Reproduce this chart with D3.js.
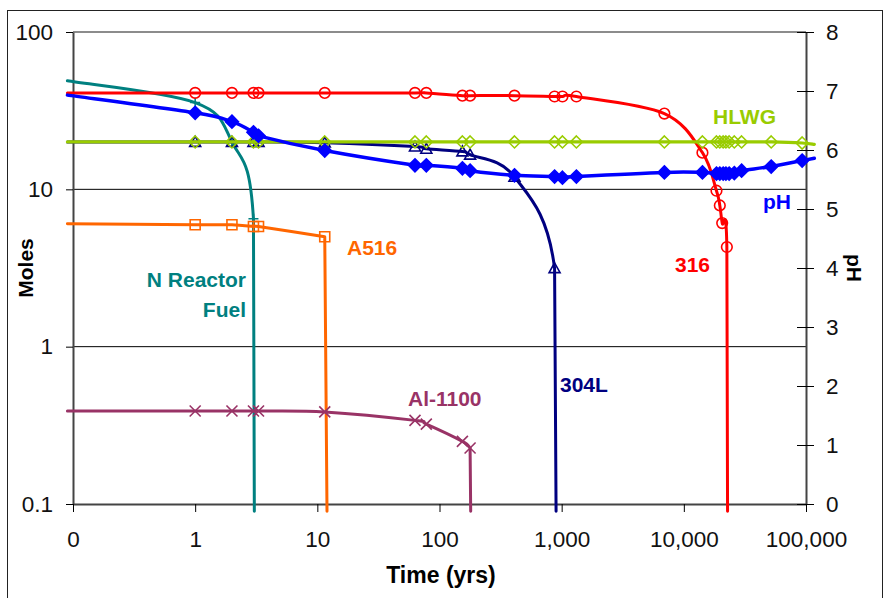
<!DOCTYPE html>
<html>
<head>
<meta charset="utf-8">
<script src="https://cdn.jsdelivr.net/npm/d3@7"></script>
<style>
  html, body { margin: 0; padding: 0; background: #fff; }
  svg { display: block; font-family: "Liberation Sans", Arial, sans-serif; }
</style>
</head>
<body>
<svg id="chart" width="884" height="598"></svg>
<script>
// ---------------- data ----------------
// "0" on the time axis sits one decade below 1; the curves start at ~0.09 yr there.
const timeTicks = [0.1, 1, 10, 100, 1000, 10000, 100000];
const timeTickLabels = ["0", "1", "10", "100", "1,000", "10,000", "100,000"];
const molesTicks = [0.1, 1, 10, 100];
const molesTickLabels = ["0.1", "1", "10", "100"];
const phTicks = [0, 1, 2, 3, 4, 5, 6, 7, 8];

// N Reactor Fuel (moles)
const tNReactor = [0.09, 1, 2, 3];
const vNReactor = [49, 35.6, 20, 6.5];
const dropNReactor = 3.05;

// A516 (moles)
const tA516 = [0.09, 1, 2, 3, 3.3, 11.5];
const vA516 = [6.05, 5.95, 5.95, 5.8, 5.8, 5.0];
const dropA516 = 12;

// Al-1100 (moles)
const tAl1100 = [0.09, 1, 2, 3, 3.3, 11.5, 63, 78, 154, 178];
const vAl1100 = [0.39, 0.39, 0.39, 0.39, 0.39, 0.385, 0.34, 0.322, 0.25, 0.227];
const dropAl1100 = 180;

// 304L (moles)
const t304L = [0.09, 1, 2, 3, 3.3, 11.5, 63, 78, 154, 178, 411, 875];
const v304L = [20, 20, 20, 20, 20, 19.8, 18.7, 18.1, 17.4, 16.6, 12.0, 3.15];
const drop304L = 900;

// 316 (moles)
const t316 = [0.09, 1, 2, 3, 3.3, 11.5, 63, 78, 154, 178, 411, 875, 1015, 1320, 6930, 14200, 18500, 19700, 20600, 22500];
const v316 = [41, 41, 41, 41, 41, 41, 41, 41, 39.4, 39.4, 39.4, 38.9, 38.9, 38.9, 30.3, 17.1, 9.8, 7.9, 6.1, 4.3];
const drop316 = 22800;

// HLWG (moles)
const tHLWG = [0.09, 1, 2, 3, 3.3, 11.5, 63, 78, 154, 178, 411, 875, 1015, 1320, 6930, 14200, 18500, 19700, 21000, 22100, 23500, 25900, 29700, 51900, 93000, 117000];
const vHLWG = [20, 20, 20, 20, 20, 20, 20, 20, 20, 20, 20, 20, 20, 20, 20, 20, 20, 20, 20, 20, 20, 20, 20, 20, 19.7, 19.3];

// pH (right axis)
const tPH = [0.09, 1, 2, 3, 3.3, 11.5, 63, 78, 154, 178, 411, 875, 1015, 1320, 6930, 14200, 18500, 19700, 21000, 22100, 23500, 25900, 29700, 51900, 93000, 117000];
const vPH = [6.93, 6.63, 6.48, 6.30, 6.24, 5.99, 5.74, 5.74, 5.69, 5.65, 5.57, 5.55, 5.53, 5.55, 5.62, 5.62, 5.60, 5.60, 5.60, 5.60, 5.60, 5.61, 5.65, 5.72, 5.82, 5.86];

const dropFloor = 0.09; // curves fall just below the 0.1 gridline

// ---------------- scales ----------------
const svg = d3.select("#chart");
const x = d3.scaleLog().domain([0.1, 100000]).range([73, 806]);
const yL = d3.scaleLog().domain([0.1, 100]).range([504, 32]);
const yR = d3.scaleLinear().domain([0, 8]).range([504, 32]);

// outer frame
svg.append("rect").attr("x", 7.5).attr("y", 10.5).attr("width", 875).attr("height", 600)
  .attr("fill", "none").attr("stroke", "#222").attr("stroke-width", 1);

// gridlines
svg.append("g").selectAll("line").data(molesTicks.filter(d => d > 0.1)).join("line")
  .attr("x1", x(0.1)).attr("x2", x(100000))
  .attr("y1", d => yL(d)).attr("y2", d => yL(d))
  .attr("stroke", d => d === 100 ? "#8c8c8c" : "#000")
  .attr("stroke-width", d => d === 100 ? 2 : 1);

const tickFont = 22.5;
// left axis
const gL = svg.append("g").attr("transform", `translate(${x(0.1)},0)`)
  .call(d3.axisLeft(yL).tickValues(molesTicks).tickFormat((d, i) => molesTickLabels[i])
    .tickSizeInner(7).tickSizeOuter(0).tickPadding(13));
// bottom axis
const gB = svg.append("g").attr("transform", `translate(0,${yL(0.1)})`)
  .call(d3.axisBottom(x).tickValues(timeTicks).tickFormat((d, i) => timeTickLabels[i])
    .tickSizeInner(8).tickSizeOuter(0).tickPadding(19));
// right axis
const gR = svg.append("g").attr("transform", `translate(${x(100000)},0)`)
  .call(d3.axisRight(yR).tickValues(phTicks).tickFormat(d3.format("d"))
    .tickSizeInner(8).tickSizeOuter(0).tickPadding(12));
gR.selectAll(".tick").append("line").attr("x1", -9).attr("x2", 0).attr("stroke", "#000");

[gL, gB, gR].forEach(g => {
  g.selectAll("text").attr("font-size", tickFont).attr("font-family", "Liberation Sans, Arial, sans-serif").attr("fill", "#111");
  g.selectAll("line").attr("stroke", "#000");
  g.select(".domain").attr("stroke", "#444").attr("stroke-width", 2);
});

// axis titles
svg.append("text").attr("x", 441).attr("y", 583).attr("text-anchor", "middle")
  .attr("font-size", 23).attr("font-weight", "bold").text("Time (yrs)");
svg.append("text").attr("transform", "translate(33,268) rotate(-90)").attr("text-anchor", "middle")
  .attr("font-size", 21).attr("font-weight", "bold").text("Moles");
svg.append("text").attr("transform", "translate(847,268) rotate(90)").attr("text-anchor", "middle")
  .attr("font-size", 21).attr("font-weight", "bold").text("pH");

// ---------------- smoothed line (Excel-like) ----------------
// pts: marker points; drop: optional bottom point reached by a straight drop.
// dropTangent: whether the drop point shapes the tangent at the last marker.
function smoothPath(pts, drop, dropTangent) {
  const p = d3.path();
  const all = (drop && dropTangent) ? pts.concat([drop]) : pts;
  const n = pts.length;
  const m = all.length;
  const P = i => all[Math.max(0, Math.min(m - 1, i))];
  p.moveTo(pts[0][0], pts[0][1]);
  for (let i = 0; i < n - 1; i++) {
    const a = P(i - 1), b = P(i), c = P(i + 1), d = P(i + 2);
    p.bezierCurveTo(
      b[0] + (c[0] - a[0]) / 6, b[1] + (c[1] - a[1]) / 6,
      c[0] - (d[0] - b[0]) / 6, c[1] - (d[1] - b[1]) / 6,
      c[0], c[1]);
  }
  if (drop) p.lineTo(drop[0], drop[1]);
  return p.toString();
}

function markerPath(type, s) {
  switch (type) {
    case "diamond": return `M0,${-s}L${s},0L0,${s}L${-s},0Z`;
    case "square": return `M${-s},${-s}H${s}V${s}H${-s}Z`;
    case "triangle": return `M0,${-s}L${s},${s * 0.8}L${-s},${s * 0.8}Z`;
    case "x": return `M${-s},${-s}L${s},${s}M${-s},${s}L${s},${-s}`;
    case "plus": return `M${-s},0H${s}M0,${-s}V${s}`;
    default: return "";
  }
}

const series = [
  { t: tNReactor, v: vNReactor, drop: dropNReactor, bend: true, y: yL, color: "#008080", width: 3, marker: "plus", ms: 5, fill: "none" },
  { t: tA516, v: vA516, drop: dropA516, bend: false, y: yL, color: "#FF6600", width: 3, marker: "square", ms: 5, fill: "none" },
  { t: tAl1100, v: vAl1100, drop: dropAl1100, bend: false, y: yL, color: "#993366", width: 3, marker: "x", ms: 5.5, fill: "none" },
  { t: t304L, v: v304L, drop: drop304L, bend: true, y: yL, color: "#000080", width: 3, marker: "triangle", ms: 5.5, fill: "none" },
  { t: t316, v: v316, drop: drop316, bend: true, y: yL, color: "#FF0000", width: 3, marker: "circle", ms: 5.3, fill: "none" },
  { t: tHLWG, v: vHLWG, drop: null, bend: false, y: yL, color: "#99CC00", width: 3.2, marker: "diamond", ms: 6, fill: "none" },
  { t: tPH, v: vPH, drop: null, bend: false, y: yR, color: "#0000FF", width: 3.5, marker: "diamond", ms: 6.5, fill: "#0000FF" }
];

series.forEach(s => {
  const pts = s.t.map((t, i) => [x(t), s.y(s.v[i])]);
  const drop = s.drop !== null ? [x(s.drop), yL(dropFloor)] : null;
  svg.append("path").attr("d", smoothPath(pts, drop, s.bend))
    .attr("fill", "none").attr("stroke", s.color).attr("stroke-width", s.width)
    .attr("stroke-linejoin", "round").attr("stroke-linecap", "round");
  const mk = s.t.map((t, i) => ({ t, v: s.v[i] })).filter(d => d.t >= 1 && d.t <= 100000);
  const g = svg.append("g");
  if (s.marker === "circle") {
    g.selectAll("circle").data(mk).join("circle")
      .attr("cx", d => x(d.t)).attr("cy", d => s.y(d.v)).attr("r", s.ms)
      .attr("fill", "none").attr("stroke", s.color).attr("stroke-width", 1.6);
  } else {
    g.selectAll("path").data(mk).join("path")
      .attr("transform", d => `translate(${x(d.t)},${s.y(d.v)})`)
      .attr("d", markerPath(s.marker, s.ms))
      .attr("fill", s.fill).attr("stroke", s.color).attr("stroke-width", 1.6);
  }
});

// ---------------- series labels ----------------
const labels = [
  { text: "HLWG", x: 713, y: 124, color: "#99CC00", anchor: "start" },
  { text: "pH", x: 763, y: 209, color: "#0000FF", anchor: "start" },
  { text: "316", x: 675, y: 272, color: "#FF0000", anchor: "start" },
  { text: "304L", x: 560, y: 392, color: "#000080", anchor: "start" },
  { text: "Al-1100", x: 408, y: 406, color: "#993366", anchor: "start" },
  { text: "A516", x: 347, y: 255, color: "#FF6600", anchor: "start" },
  { text: "N Reactor", x: 246, y: 287, color: "#008080", anchor: "end" },
  { text: "Fuel", x: 246, y: 317, color: "#008080", anchor: "end" }
];
svg.append("g").selectAll("text").data(labels).join("text")
  .attr("x", d => d.x).attr("y", d => d.y).attr("text-anchor", d => d.anchor)
  .attr("fill", d => d.color).attr("font-size", 21).attr("font-weight", "bold")
  .text(d => d.text);
</script>
</body>
</html>
